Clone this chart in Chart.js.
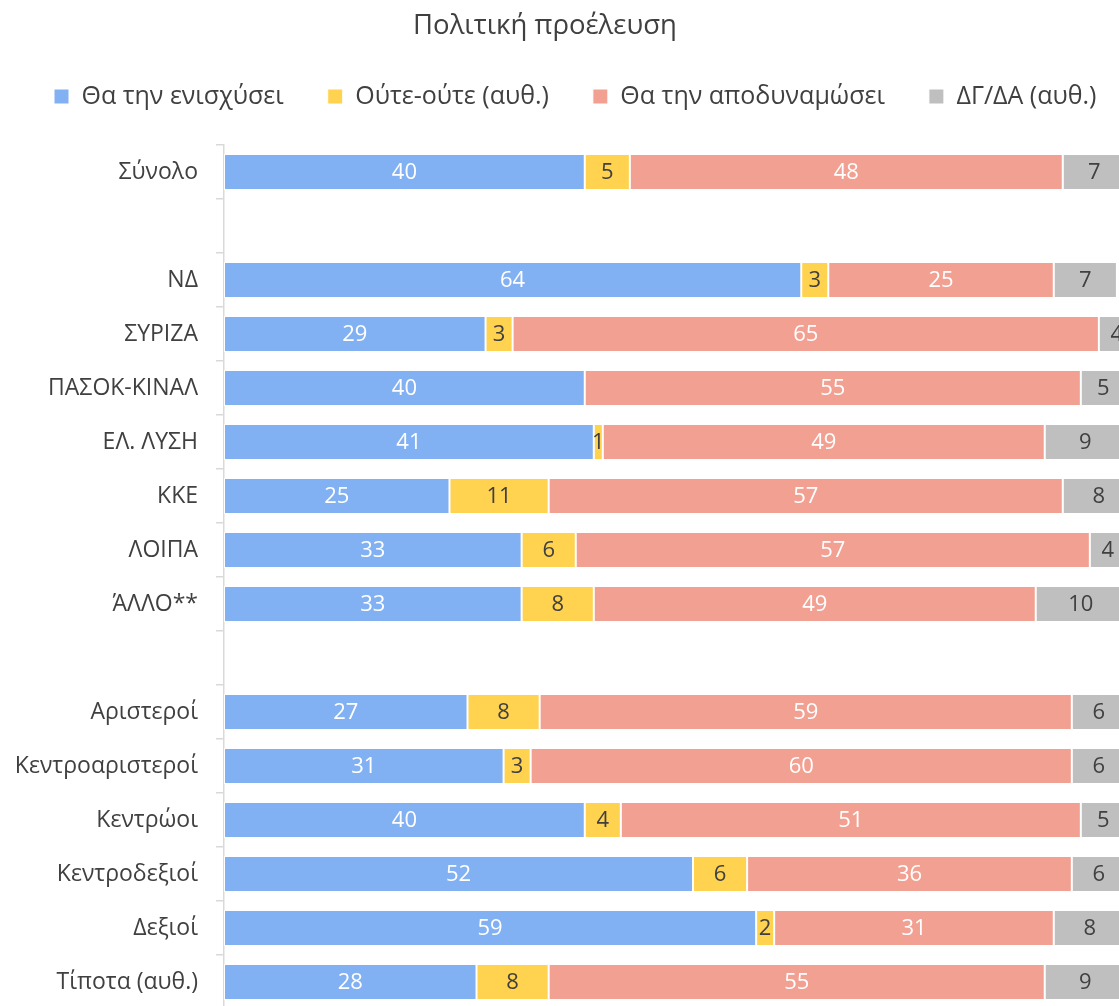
<!DOCTYPE html>
<html>
<head>
<meta charset="utf-8">
<script src="https://cdn.jsdelivr.net/npm/chart.js@4.4.1/dist/chart.umd.min.js"></script>
<style>
  html, body { margin: 0; padding: 0; background: #fff; overflow: hidden; }
  #wrap { width: 1119px; height: 1006px; overflow: hidden; position: relative; }
  canvas { display: block; }
</style>
</head>
<body>
<div id="wrap"><canvas id="chart" width="1164" height="1012"></canvas></div>
<script>
// Κατηγορίες (κενές γραμμές για διαχωρισμό ομάδων)
const categories = ['Σύνολο', '', 'ΝΔ', 'ΣΥΡΙΖΑ', 'ΠΑΣΟΚ-ΚΙΝΑΛ', 'ΕΛ. ΛΥΣΗ', 'ΚΚΕ', 'ΛΟΙΠΑ', 'ΆΛΛΟ**', '',
  'Αριστεροί', 'Κεντροαριστεροί', 'Κεντρώοι', 'Κεντροδεξιοί', 'Δεξιοί', 'Τίποτα (αυθ.)'];

const seriesNames = ['Θα την ενισχύσει', 'Ούτε-ούτε (αυθ.)', 'Θα την αποδυναμώσει', 'ΔΓ/ΔΑ (αυθ.)'];

const strengthen = [40, null, 64, 29, 40, 41, 25, 33, 33, null, 27, 31, 40, 52, 59, 28];
const neither    = [5,  null, 3,  3,  0,  1,  11, 6,  8,  null, 8,  3,  4,  6,  2,  8];
const weaken     = [48, null, 25, 65, 55, 49, 57, 57, 49, null, 59, 60, 51, 36, 31, 55];
const dkna       = [7,  null, 7,  4,  5,  9,  8,  4,  10, null, 6,  6,  5,  6,  8,  9];

const colors = ['#82B1F3', '#FFD24F', '#F2A091', '#BFBFBF'];
const labelColors = ['#ffffff', '#404040', '#ffffff', '#404040'];

Chart.defaults.font.family = "'Open Sans', 'Noto Sans', sans-serif";
Chart.defaults.color = '#404040';

// Τίτλος: σχεδιάζεται με δικό μας plugin για να μπει στη σωστή θέση
const titlePlugin = {
  id: 'customTitle',
  afterDraw(chart) {
    const ctx = chart.ctx;
    ctx.save();
    ctx.font = "27.5px 'Open Sans', 'Noto Sans', sans-serif";
    ctx.fillStyle = '#404040';
    ctx.textAlign = 'center';
    ctx.textBaseline = 'middle';
    ctx.fillText('Πολιτική προέλευση', 545, 26);
    ctx.restore();
  }
};

// Ετικέτες τιμών μέσα στις μπάρες
const valueLabels = {
  id: 'valueLabels',
  afterDatasetsDraw(chart) {
    const ctx = chart.ctx;
    ctx.save();
    ctx.font = "22px 'Open Sans', 'Noto Sans', sans-serif";
    ctx.textAlign = 'center';
    ctx.textBaseline = 'middle';
    chart.data.datasets.forEach((ds, i) => {
      const meta = chart.getDatasetMeta(i);
      meta.data.forEach((bar, j) => {
        const v = ds.data[j];
        if (!v) return;
        ctx.fillStyle = labelColors[i];
        ctx.fillText(String(v), (bar.x + bar.base) / 2, bar.y + 1);
      });
    });
    ctx.restore();
  }
};

// Λίγο επιπλέον χώρος κάτω από το υπόμνημα
const legendSpace = {
  id: 'legendSpace',
  beforeInit(chart) {
    const origFit = chart.legend.fit;
    chart.legend.fit = function () {
      origFit.bind(chart.legend)();
      this.height += 26;
    };
  }
};

const datasets = [strengthen, neither, weaken, dkna].map((d, i) => ({
  label: seriesNames[i],
  data: d,
  backgroundColor: colors[i],
  borderColor: '#ffffff',
  borderWidth: 1,
  borderSkipped: false,
  barPercentage: 0.667,
  categoryPercentage: 1
}));

new Chart(document.getElementById('chart'), {
  type: 'bar',
  data: { labels: categories, datasets: datasets },
  options: {
    responsive: false,
    animation: false,
    indexAxis: 'y',
    layout: { padding: { top: 40, left: 10, right: 2, bottom: 3 } },
    plugins: {
      title: { display: false },
      tooltip: { enabled: false },
      legend: {
        position: 'top',
        align: 'start',
        labels: {
          boxWidth: 15,
          boxHeight: 15,
          padding: 44,
          color: '#404040',
          font: { size: 25 }
        }
      }
    },
    scales: {
      // το αρχικό γράφημα συνεχίζει δεξιά από το κάδρο
      x: { stacked: true, display: false, min: 0, max: 104 },
      y: {
        stacked: true,
        afterFit(scale) {
          scale.width = 214;
          scale.paddingTop = 0;
          scale.paddingBottom = 0;
        },
        grid: {
          offset: true,
          drawOnChartArea: false,
          drawTicks: true,
          tickLength: 8,
          color: '#d9d9d9',
          lineWidth: 1.5
        },
        border: { display: true, color: '#d9d9d9', width: 1.5 },
        ticks: { padding: 18, color: '#404040', font: { size: 23 } }
      }
    }
  },
  plugins: [titlePlugin, valueLabels, legendSpace]
});
</script>
</body>
</html>
